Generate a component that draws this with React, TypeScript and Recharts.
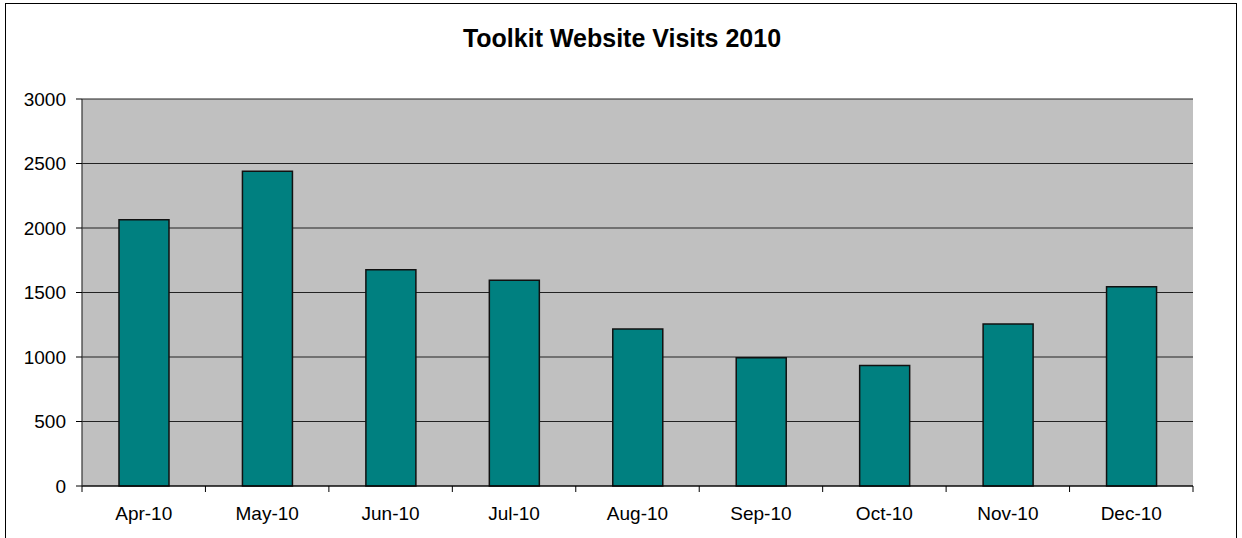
import React from "react";
import { BarChart, Bar, XAxis, YAxis, CartesianGrid } from "recharts";

const months = ["Apr-10", "May-10", "Jun-10", "Jul-10", "Aug-10", "Sep-10", "Oct-10", "Nov-10", "Dec-10"];
const visits = [2064, 2440, 1677, 1594, 1217, 995, 935, 1256, 1545];
const yTicks = [0, 500, 1000, 1500, 2000, 2500, 3000];
const title = "Toolkit Website Visits 2010";

const data = months.map((m, i) => ({ month: m, visits: visits[i] }));

const FONT = "'Liberation Sans', Arial, sans-serif";

const XTick = (props: any) => {
  const { x, y, payload, index, width } = props;
  const band = width / months.length;
  const tickSize = 6;
  const tickMargin = 15;
  const axisY = y - tickSize - tickMargin;
  const left = x - band / 2;
  const right = x + band / 2;
  return (
    <g>
      <line x1={left} y1={axisY} x2={left} y2={axisY + tickSize} stroke="#000" strokeWidth={1} />
      {index === months.length - 1 && (
        <line x1={right} y1={axisY} x2={right} y2={axisY + tickSize} stroke="#000" strokeWidth={1} />
      )}
      <text x={x} y={y} dy="0.71em" textAnchor="middle" fontSize={19} fontFamily={FONT} fill="#000">
        {payload.value}
      </text>
    </g>
  );
};

export default function App() {
  return (
    <div style={{ position: "absolute", left: 0, top: 0, width: 1242, height: 538, overflow: "hidden", background: "#fff" }}>
      <div
        style={{
          position: "absolute",
          left: 5,
          top: 3,
          width: 1232,
          height: 600,
          border: "1.5px solid #000",
          boxSizing: "border-box",
        }}
      />
      <svg width={1242} height={70} style={{ position: "absolute", left: 0, top: 0 }}>
        <text x={622} y={47} textAnchor="middle" fontSize={25} fontWeight="bold" fontFamily={FONT} fill="#000">
          {title}
        </text>
      </svg>
      <div style={{ position: "absolute", left: 0, top: 0 }}>
        <BarChart
          width={1242}
          height={538}
          data={data}
          margin={{ top: 99, right: 49, left: 22, bottom: 22 }}
        >
          <CartesianGrid vertical={false} stroke="#222" strokeWidth={1.2} fill="#C0C0C0" />
          <XAxis
            dataKey="month"
            height={30}
            tickLine={false}
            tickSize={6}
            tickMargin={15}
            axisLine={{ stroke: "#000", strokeWidth: 1.2 }}
            tick={<XTick />}
            interval={0}
          />
          <YAxis
            width={60}
            domain={[0, 3000]}
            ticks={yTicks}
            interval={0}
            tickSize={6}
            tickMargin={10}
            tickLine={{ stroke: "#000" }}
            axisLine={{ stroke: "#333", strokeWidth: 1.2 }}
            tick={{ fontSize: 19, fontFamily: FONT, fill: "#000" }}
          />
          <Bar
            dataKey="visits"
            fill="#008080"
            stroke="#111"
            strokeWidth={1.5}
            barSize={50}
            isAnimationActive={false}
          />
        </BarChart>
      </div>
    </div>
  );
}
